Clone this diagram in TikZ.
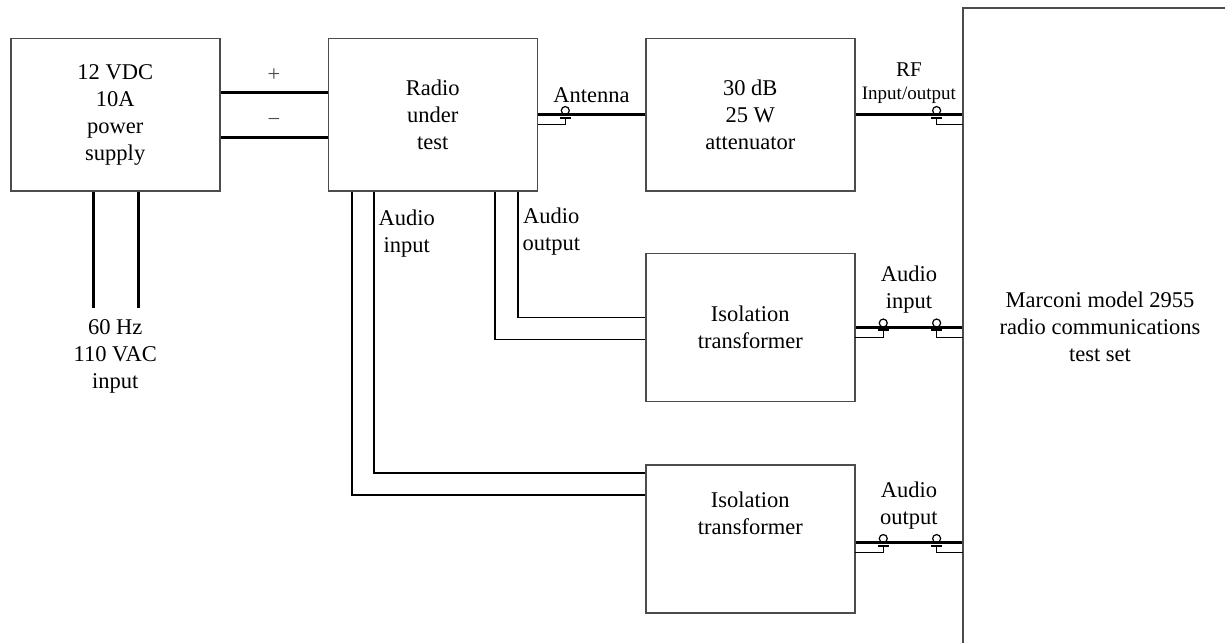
\documentclass[tikz,border=0pt]{standalone}
\usepackage{fontspec}
\setmainfont{Liberation Serif}
\usetikzlibrary{positioning}

\begin{document}
\begin{tikzpicture}[
    x=0.5pt,y=-0.5pt,
    box/.style={draw=black!70,line width=0.75pt,rectangle,minimum width=104.5pt,
                minimum height=76pt,inner sep=2pt,align=center},
    isobox/.style={box,minimum height=74pt},
    pwr/.style={line width=1.5pt},
    sig/.style={line width=0.75pt},
    lbl/.style={align=center,inner sep=1pt},
    pics/coax/.style={code={
        \draw[line width=0.6pt] (0,2.1pt) circle (2pt);
        \draw[line width=1pt] (-2.7pt,-1.5pt) -- (2.7pt,-1.5pt);
        \draw[line width=0.6pt] (0,-1.5pt) -- (0,-5pt) -- (#1,-5pt);
    }},
    node distance=30.5pt and 53.5pt,
    font=\fontsize{11.25}{13.5}\selectfont,
  ]
    \clip (0,0) rectangle (1225,642);
    \node[box,anchor=north west] (ps) at (10,38) {12 VDC\\10A\\power\\supply};
    \node[box,right=of ps]  (radio) {Radio\\under\\test};
    \node[box,right=of radio] (att) {30 dB\\25 W\\attenuator};
    \node[isobox,below=of att] (iso1) {Isolation\\transformer};
    \node[isobox,below=31pt of iso1,text depth=26pt] (iso2) {Isolation\\transformer};
    \node[box,minimum width=137pt,minimum height=319pt] (ts) at (1100,327)
        {Marconi model 2955\\radio communications\\test set};
    \node[lbl,below=63pt of ps] (ac) {60 Hz\\110 VAC\\input};

    % dc supply and mains
    \draw[pwr] ([yshift=11pt]ps.east) -- node[lbl,above=4pt,text=black!70] {+} ([yshift=11pt]radio.west);
    \draw[pwr] ([yshift=-11.5pt]ps.east) -- node[lbl,above=4pt,text=black!70] {−} ([yshift=-11.5pt]radio.west);
    \draw[pwr] ([xshift=-11pt]ps.south) -- ([xshift=-11pt,yshift=5pt]ac.north);
    \draw[pwr] ([xshift=11.5pt]ps.south) -- ([xshift=11.5pt,yshift=5pt]ac.north);

    % audio to the isolation transformers
    \draw[sig] ([xshift=42.5pt]radio.south) |- node[lbl,pos=0.16,anchor=west,inner sep=2pt] {Audio\\output} ([yshift=5pt]iso1.west);
    \draw[sig] ([xshift=31pt]radio.south) |- ([yshift=-6pt]iso1.west);
    \draw[sig] ([xshift=-29.5pt]radio.south) |- node[lbl,pos=0.075,anchor=west,inner sep=2pt] {Audio\\input} ([yshift=33pt]iso2.west);
    \draw[sig] ([xshift=-40.5pt]radio.south) |- ([yshift=22pt]iso2.west);

    % coax runs
    \draw[pwr] (radio.east) -- node[lbl,above=4.5pt] {Antenna} (att.west) pic[pos=0.255] {coax=-13.5pt};
    \draw[pwr] (att.east) -- node[lbl,above=4pt,font=\fontsize{10.5}{11.5}\selectfont] {RF\\{\fontsize{9.5}{10}\selectfont Input/output}} (ts.west |- att.east) pic[pos=0.76] {coax=13pt};
    \draw[pwr] (iso1.east) -- node[lbl,above=5pt] {Audio\\input} (ts.west |- iso1.east)
        pic[pos=0.26] {coax=-14pt} pic[pos=0.76] {coax=13pt};
    \draw[pwr] ([yshift=-2pt]iso2.east) -- node[lbl,above=5pt] {Audio\\output} ([yshift=-2pt]ts.west |- iso2.east)
        pic[pos=0.26] {coax=-14pt} pic[pos=0.76] {coax=13pt};
\end{tikzpicture}
\end{document}
